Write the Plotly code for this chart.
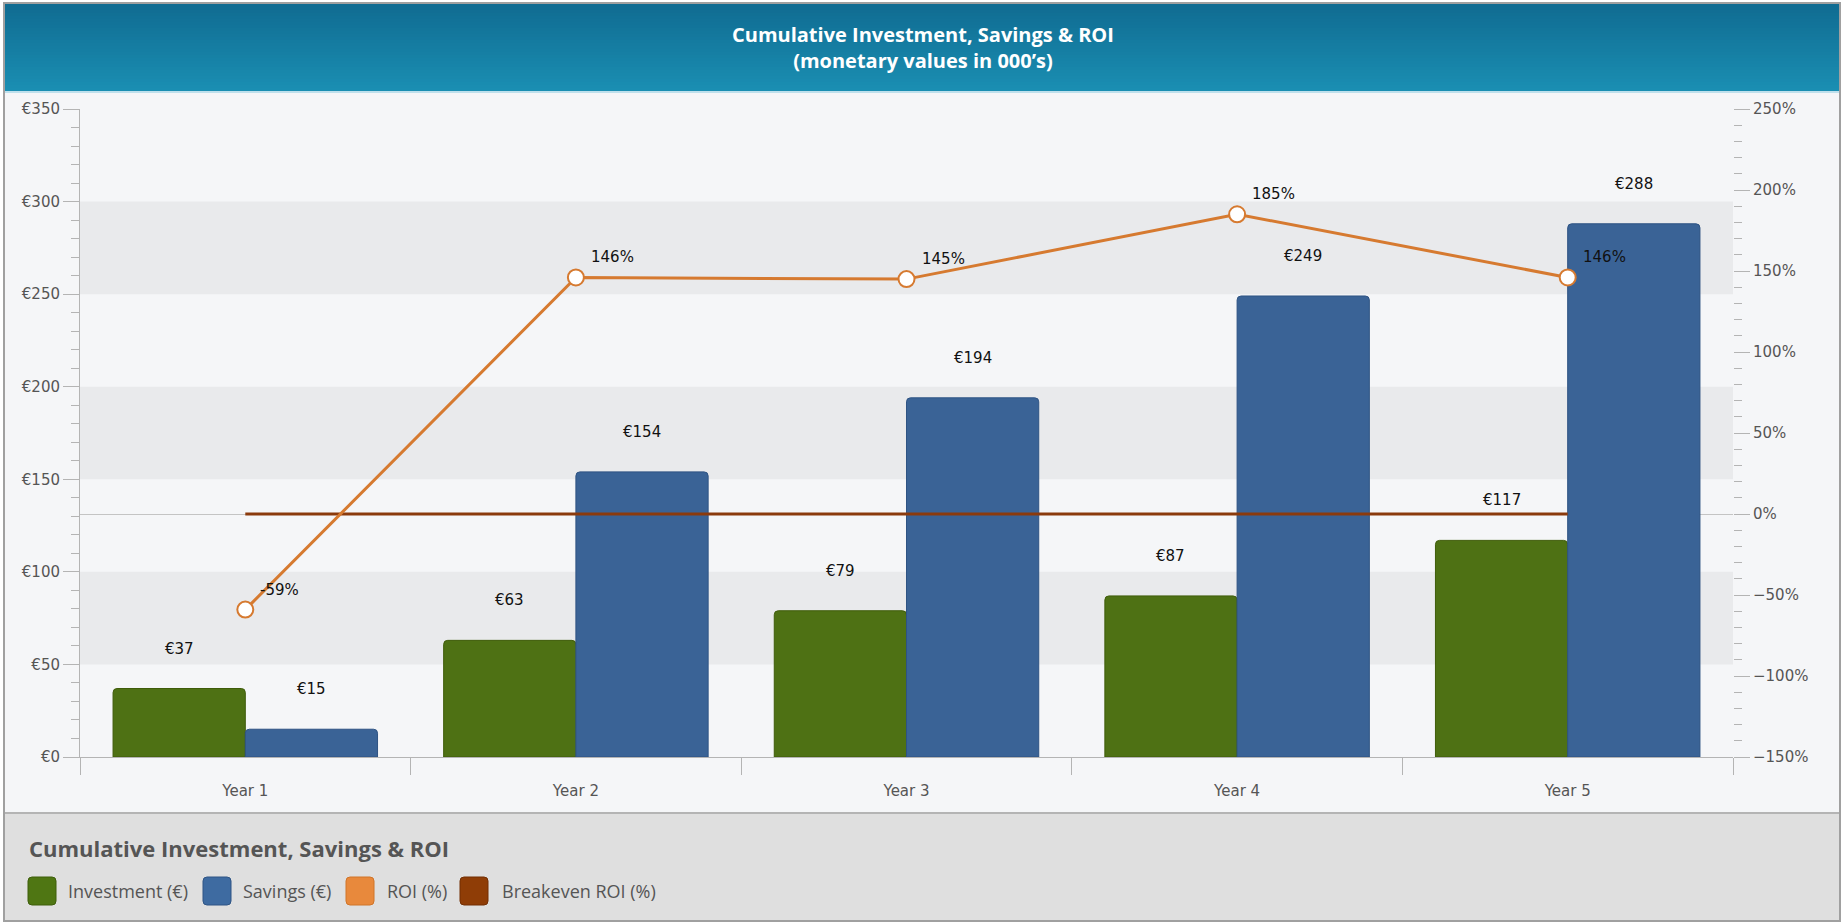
import plotly.graph_objects as go

# ---------------- data ----------------
categories = ["Year 1", "Year 2", "Year 3", "Year 4", "Year 5"]
investment = [37, 63, 79, 87, 117]
savings = [15, 154, 194, 249, 288]
roi = [-59, 146, 145, 185, 146]
breakeven = [0, 0, 0, 0, 0]
legend_names = ["Investment (€)", "Savings (€)", "ROI (%)", "Breakeven ROI (%)"]

# ---------------- geometry helpers (pixel -> paper) ----------------
FW, FH = 1843, 922
L, R, T, B = 80, 1733, 109, 757
PW, PH = R - L, B - T


def px(x):
    return (x - L) / PW


def py(y):
    return (B - y) / PH


xs = list(range(len(categories)))

C_INV = "#4e7114"
C_INV_L = "#3f5c0a"
C_SAV = "#3a6396"
C_SAV_L = "#2e5383"
C_ROI = "#d67a30"
C_BRK = "#8b3a0c"

fig = go.Figure()

fig.add_trace(go.Bar(
    x=[x for x in xs], y=investment, name=legend_names[0],
    marker=dict(color=C_INV, line=dict(color=C_INV_L, width=1), cornerradius=4),
    showlegend=False, hoverinfo="skip",
))
fig.add_trace(go.Bar(
    x=[x for x in xs], y=savings, name=legend_names[1],
    marker=dict(color=C_SAV, line=dict(color=C_SAV_L, width=1), cornerradius=4),
    showlegend=False, hoverinfo="skip",
))
fig.add_trace(go.Scatter(
    x=xs, y=breakeven, name=legend_names[3], yaxis="y2", mode="lines",
    line=dict(color=C_BRK, width=3), showlegend=False, hoverinfo="skip",
))
fig.add_trace(go.Scatter(
    x=xs, y=roi, name=legend_names[2], yaxis="y2", mode="lines+markers",
    line=dict(color=C_ROI, width=3),
    marker=dict(size=16, color="white", line=dict(color=C_ROI, width=2)),
    showlegend=False, hoverinfo="skip", cliponaxis=False,
))

shapes = []
# frame background
shapes.append(dict(type="rect", xref="paper", yref="paper", layer="below",
                   x0=px(5), x1=px(1839), y0=py(4), y1=py(921),
                   fillcolor="#f5f6f8", line=dict(width=0)))
# alternating bands
for lo, hi in [(50, 100), (150, 200), (250, 300)]:
    shapes.append(dict(type="rect", xref="paper", yref="y", layer="below",
                       x0=0, x1=1, y0=lo, y1=hi,
                       fillcolor="#e9eaec", line=dict(width=0)))
# header gradient (stripes)
top_c = (16, 108, 146)
bot_c = (26, 142, 178)
y_top, y_bot = 4, 91
n = 29
step = (y_bot - y_top) / n
for i in range(n):
    t = i / (n - 1)
    c = tuple(round(top_c[k] + (bot_c[k] - top_c[k]) * t) for k in range(3))
    shapes.append(dict(type="rect", xref="paper", yref="paper", layer="below",
                       x0=px(5), x1=px(1839),
                       y0=py(y_top + i * step), y1=py(y_top + (i + 1) * step + 0.6),
                       fillcolor="rgb(%d,%d,%d)" % c, line=dict(width=0)))
shapes.append(dict(type="rect", xref="paper", yref="paper", layer="below",
                   x0=px(5), x1=px(1839), y0=py(91), y1=py(93),
                   fillcolor="#bfe0ec", line=dict(width=0)))
# legend panel
shapes.append(dict(type="rect", xref="paper", yref="paper", layer="below",
                   x0=px(5), x1=px(1839), y0=py(813), y1=py(921),
                   fillcolor="#dfdfdf", line=dict(width=0)))
shapes.append(dict(type="line", xref="paper", yref="paper", layer="below",
                   x0=px(5), x1=px(1839), y0=py(813), y1=py(813),
                   line=dict(color="#b4b4b4", width=2)))
# outer border
shapes.append(dict(type="rect", xref="paper", yref="paper", layer="above",
                   x0=px(4), x1=px(1840), y0=py(3), y1=py(921),
                   fillcolor="rgba(0,0,0,0)", line=dict(color="#a0a0a0", width=2)))

# legend swatches
sw_cols = [("#4f7613", "#3e5e0b"), ("#3e6ba1", "#2f5585"),
           ("#e8893c", "#d07428"), ("#8f3d06", "#732f03")]
sw_x = [28, 203, 346, 460]
tx_x = [68, 243, 387, 502]
sw = 28
cy = 891


def rounded_rect(x0, y0, x1, y1, r):
    X0, X1 = px(x0), px(x1)
    Y0, Y1 = py(y0), py(y1)
    rx = r / PW
    ry = r / PH
    return (f"M {X0+rx},{Y0} L {X1-rx},{Y0} Q {X1},{Y0} {X1},{Y0-ry} "
            f"L {X1},{Y1+ry} Q {X1},{Y1} {X1-rx},{Y1} L {X0+rx},{Y1} "
            f"Q {X0},{Y1} {X0},{Y1+ry} L {X0},{Y0-ry} Q {X0},{Y0} {X0+rx},{Y0} Z")


for (fc, lc), x0 in zip(sw_cols, sw_x):
    shapes.append(dict(type="path", xref="paper", yref="paper", layer="above",
                       path=rounded_rect(x0, cy - sw / 2, x0 + sw, cy + sw / 2, 4),
                       fillcolor=fc, line=dict(color=lc, width=1)))

annotations = []
# header title
annotations.append(dict(
    xref="paper", yref="paper", x=px(923), y=py(48),
    text="Cumulative Investment, Savings &amp; ROI<br>(monetary values in 000’s)",
    showarrow=False, xanchor="center", yanchor="middle", align="center",
    font=dict(family="Open Sans", size=20, color="white", weight="bold"),
))
# legend title
annotations.append(dict(
    xref="paper", yref="paper", x=px(27), y=py(848),
    text="Cumulative Investment, Savings &amp; ROI", showarrow=False,
    xanchor="left", yanchor="middle",
    font=dict(family="Open Sans", size=22, color="#555555", weight="bold"),
))
for name, x0 in zip(legend_names, tx_x):
    annotations.append(dict(
        xref="paper", yref="paper", x=px(x0 - 2), y=py(cy), text=name,
        showarrow=False, xanchor="left", yanchor="middle",
        font=dict(family="Open Sans", size=18, color="#555555"),
    ))

lab_font = dict(family="DejaVu Sans", size=15, color="#111111")
for i, v in enumerate(investment):
    annotations.append(dict(x=i - 0.2, y=v, xref="x", yref="y", text=f"€{v}",
                            showarrow=False, yshift=40, font=lab_font))
for i, v in enumerate(savings):
    annotations.append(dict(x=i + 0.2, y=v, xref="x", yref="y", text=f"€{v}",
                            showarrow=False, yshift=40, font=lab_font))
for i, v in enumerate(roi):
    annotations.append(dict(x=i, y=v, xref="x", yref="y2", text=f"{v}%",
                            showarrow=False, xanchor="left", xshift=13, yshift=20,
                            font=lab_font))

tick_font = dict(family="DejaVu Sans", size=15, color="#555555")
axis_c = "#b4b4b4"

fig.update_layout(
    width=FW, height=FH, autosize=False,
    margin=dict(l=L, r=FW - R, t=T, b=FH - B, pad=0),
    paper_bgcolor="white", plot_bgcolor="#f5f6f8",
    barmode="group", bargap=0.2, bargroupgap=0.0,
    showlegend=False,
    shapes=shapes, annotations=annotations,
    xaxis=dict(
        range=[-0.5, 4.5], tickvals=xs, ticktext=categories,
        showgrid=False, zeroline=False, showline=True, linecolor=axis_c, linewidth=1,
        ticks="", ticklabelstandoff=20, tickfont=tick_font,
        minor=dict(ticks="outside", tick0=-0.5, dtick=1, ticklen=17,
                   tickcolor=axis_c, tickwidth=1, showgrid=False),
        fixedrange=True,
    ),
    yaxis=dict(
        range=[0, 350], dtick=50, tick0=0, tickprefix="€",
        showgrid=False, zeroline=False, showline=True, linecolor=axis_c, linewidth=1,
        ticks="outside", ticklen=16, tickcolor=axis_c, tickwidth=1,
        tickfont=tick_font,
        minor=dict(ticks="outside", dtick=10, ticklen=8, tickcolor=axis_c,
                   tickwidth=1, showgrid=False),
        fixedrange=True,
    ),
    yaxis2=dict(
        range=[-150, 250], dtick=50, tick0=0, ticksuffix="%",
        overlaying="y", side="right",
        showgrid=False, zeroline=True, zerolinecolor="#c4c4c4", zerolinewidth=1,
        showline=False,
        ticks="outside", ticklen=16, tickcolor=axis_c, tickwidth=1,
        tickfont=tick_font,
        minor=dict(ticks="outside", dtick=10, ticklen=8, tickcolor=axis_c,
                   tickwidth=1, showgrid=False),
        fixedrange=True,
    ),
)

fig.write_html(
    "out.html",
    config={"displayModeBar": False},
    post_script="document.body.style.margin='0px';document.body.style.overflow='hidden';",
)
